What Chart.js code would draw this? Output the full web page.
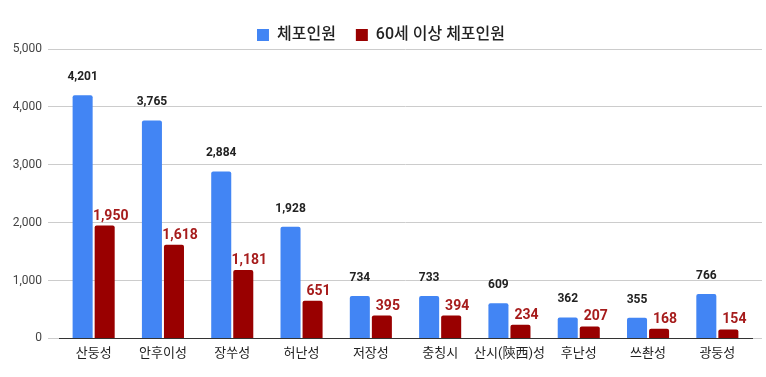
<!DOCTYPE html>
<html><head><meta charset="utf-8">
<script src="https://cdn.jsdelivr.net/npm/chart.js@4/dist/chart.umd.min.js"></script>
<style>html,body{margin:0;padding:0;background:#fff}#wrap{width:766px;height:377px;position:relative}</style>
</head><body><div id="wrap"><canvas id="c" width="766" height="377"></canvas></div>
<script>
const categories = ['산둥성','안후이성','장쑤성','허난성','저장성','충칭시','산시(陝西)성','후난성','쓰촨성','광둥성'];
const arrestTotal = [4201, 3765, 2884, 1928, 734, 733, 609, 362, 355, 766];
const arrest60 = [1950, 1618, 1181, 651, 395, 394, 234, 207, 168, 154];
const seriesNames = ['체포인원', '60세 이상 체포인원'];
const yTicks = [0, 1000, 2000, 3000, 4000, 5000];

const FONT = "Roboto, 'Noto Sans CJK KR', sans-serif";
const labelPlugin = {
  id: 'valLabels',
  afterDatasetsDraw(chart) {
    const ctx = chart.ctx;
    ctx.save();
    ctx.textAlign = 'center';
    ctx.textBaseline = 'alphabetic';
    chart.data.datasets.forEach((ds, di) => {
      const meta = chart.getDatasetMeta(di);
      meta.data.forEach((el, i) => {
        const v = ds.data[i];
        const txt = v.toLocaleString('en-US');
        if (di === 0) {
          ctx.font = "bold 12px " + FONT;
          ctx.fillStyle = '#222222';
          ctx.fillText(txt, el.x, el.y - 15);
        } else {
          ctx.font = "bold 14px " + FONT;
          ctx.fillStyle = '#a61c1c';
          ctx.fillText(txt, el.x + 6, el.y - 6);
        }
      });
    });
    ctx.restore();
  }
};
const legendTrim = {
  id: 'legendTrim',
  beforeLayout(chart) {
    const lg = chart.legend;
    if (lg && !lg._trimmed) {
      const f = lg.fit;
      lg.fit = function () { f.call(this); this.height -= 4; };
      lg._trimmed = true;
    }
  }
};

new Chart(document.getElementById('c'), {
  type: 'bar',
  data: {
    labels: categories,
    datasets: [
      { label: seriesNames[0], data: arrestTotal, backgroundColor: '#4285f4', borderRadius: {topLeft: 2, topRight: 2}, borderSkipped: 'bottom', categoryPercentage: 0.636, barPercentage: 0.909 },
      { label: seriesNames[1], data: arrest60, backgroundColor: '#990000', borderRadius: {topLeft: 2, topRight: 2}, borderSkipped: 'bottom', categoryPercentage: 0.636, barPercentage: 0.909 }
    ]
  },
  options: {
    responsive: false,
    animation: false,
    devicePixelRatio: 1,
    layout: { padding: { top: 7, right: 4, bottom: 7, left: 0 } },
    plugins: {
      legend: {
        position: 'top',
        align: 'center',
        labels: { font: { family: FONT, size: 16, weight: '500' }, color: '#222', boxWidth: 12, boxHeight: 12, padding: 20 }
      },
      tooltip: { enabled: false }
    },
    scales: {
      x: {
        grid: { display: false, drawTicks: false },
        border: { display: true, color: '#333', width: 1 },
        ticks: { font: { family: FONT, size: 13 }, color: '#222', padding: 8, maxRotation: 0, autoSkip: false }
      },
      y: {
        min: 0, max: 5000,
        afterBuildTicks(s) { s.ticks = yTicks.map(v => ({ value: v })); },
        afterFit(s) { s.width = 59; },
        grid: { color: '#cccccc', tickLength: 11, drawTicks: true },
        border: { display: false },
        ticks: { font: { family: FONT, size: 12 }, color: '#444', padding: 6, callback: v => v.toLocaleString('en-US') }
      },
      y2: {
        position: 'right',
        min: 0, max: 5000,
        afterBuildTicks(s) { s.ticks = yTicks.map(v => ({ value: v })); },
        afterFit(s) { s.width = 10; },
        grid: { display: true, drawOnChartArea: false, color: '#cccccc', tickLength: 10, drawTicks: true },
        border: { display: false },
        ticks: { display: false }
      }
    }
  },
  plugins: [legendTrim, labelPlugin]
});
</script></body></html>
